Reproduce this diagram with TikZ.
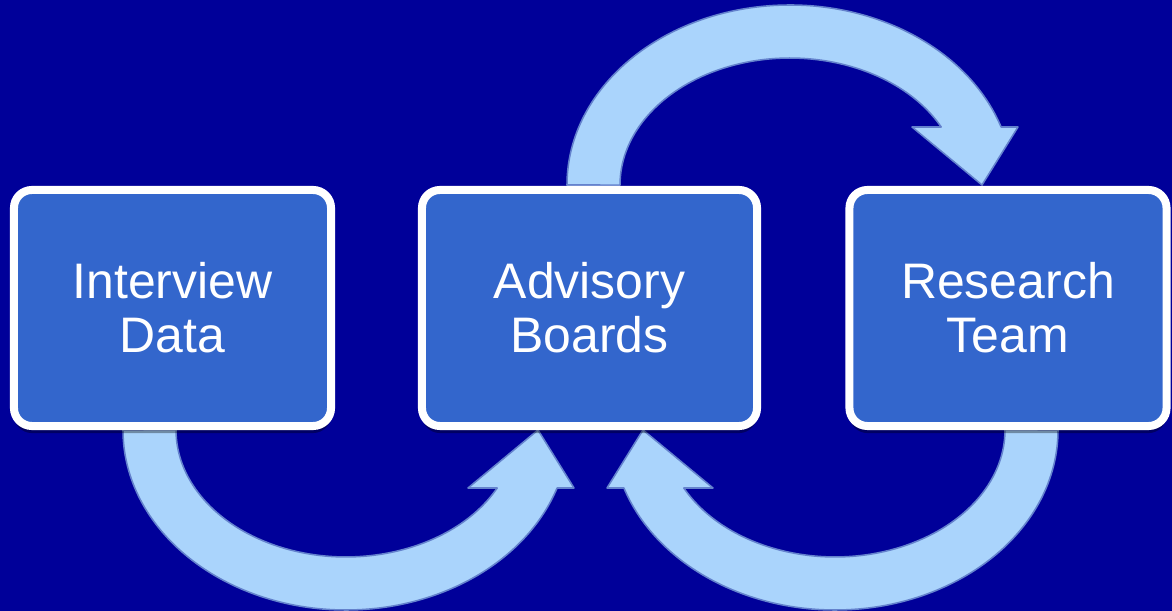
\documentclass[tikz,border=0pt]{standalone}
\usepackage{fontspec}
\setmainfont{Liberation Sans}
\usetikzlibrary{shadows}

\definecolor{slidebg}{RGB}{0,0,153}
\definecolor{boxfill}{RGB}{51,102,204}
\definecolor{flowfill}{RGB}{170,212,252}
\definecolor{flowline}{RGB}{100,130,205}

\tikzset{
	box/.style={draw=white, line width=0.2cm, fill=boxfill, rounded corners=0.45cm,
		minimum width=7.925cm, minimum height=5.9cm, align=center, text=white,
		font=\fontsize{35.5}{38.5}\selectfont,
		drop shadow={shadow xshift=0pt, shadow yshift=-5pt, opacity=0.35, fill=black}},
	flow/.style={fill=flowfill, draw=flowline, line width=1.1pt, line join=round},
}

\begin{document}
\begin{tikzpicture}[x=0.025cm, y=0.025cm]
	% Background
	\fill[slidebg] (0,0) rectangle (1172,611);
	\useasboundingbox (0,0) rectangle (1172,611);

	% Curved arrows (drawn first, the boxes sit on their ends)
	\begin{scope}[shift={(790,426)}]
		\draw[flow] (-223,0) arc[start angle=180, end angle=18.8, x radius=223, y radius=180]
			-- (228,58) -- (192,0) -- (122,58) -- (151.2,58)
			arc[start angle=27.2, end angle=180, x radius=170, y radius=127] -- cycle;
	\end{scope}
	\begin{scope}[shift={(346,181)}, yscale=-1]
		\draw[flow] (-223,0) arc[start angle=180, end angle=18.8, x radius=223, y radius=180]
			-- (228,58) -- (192,0) -- (122,58) -- (151.2,58)
			arc[start angle=27.2, end angle=180, x radius=170, y radius=127] -- cycle;
	\end{scope}
	\begin{scope}[shift={(835,181)}, xscale=-1, yscale=-1]
		\draw[flow] (-223,0) arc[start angle=180, end angle=18.8, x radius=223, y radius=180]
			-- (228,58) -- (192,0) -- (122,58) -- (151.2,58)
			arc[start angle=27.2, end angle=180, x radius=170, y radius=127] -- cycle;
	\end{scope}

	% Boxes
	\node[box] (interview) at (172.5,303) {Interview\\Data};
	\node[box, minimum width=8.375cm] (advisory) at (589.5,303) {Advisory\\Boards};
	\node[box] (research) at (1008,303) {Research\\Team};

\end{tikzpicture}
\end{document}
